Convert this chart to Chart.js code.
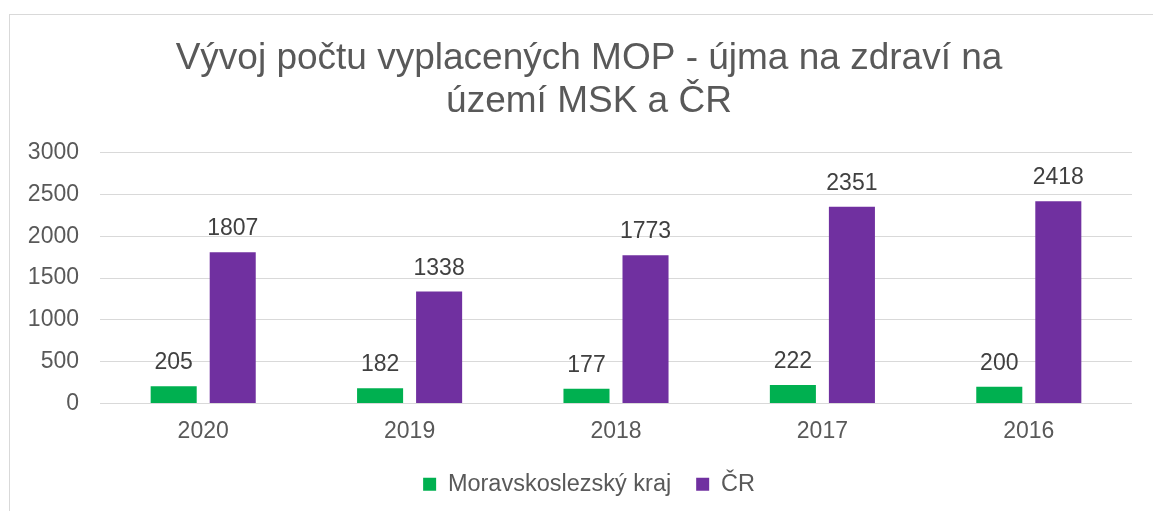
<!DOCTYPE html>
<html>
<head>
<meta charset="utf-8">
<script src="https://cdn.jsdelivr.net/npm/chart.js@4"></script>
<style>
  html, body { margin: 0; padding: 0; background: #fff; overflow: hidden; }
  #ramecek {
    position: absolute; left: 9px; top: 14px;
    width: 1158px; height: 520px;
    border-top: 1px solid #d9d9d9; border-left: 1px solid #d9d9d9;
    overflow: hidden;
  }
</style>
</head>
<body>
<div id="ramecek">
  <canvas id="graf" width="1158" height="495"></canvas>
</div>
<script>
var roky = ['2020', '2019', '2018', '2017', '2016']
var msk = [205, 182, 177, 222, 200]
var cr = [1807, 1338, 1773, 2351, 2418]
var nadpis = ['Vývoj počtu vyplacených MOP - újma na zdraví na', 'území MSK a ČR']

var pismo = 'Liberation Sans, Arial, sans-serif'

// popisky hodnot nad sloupci
var popiskyPlugin = {
    id: 'popisky',
    afterDatasetsDraw: function(chart) {
        var ctx = chart.ctx
        ctx.save()
        ctx.font = '23px ' + pismo
        ctx.fillStyle = '#404040'
        ctx.textAlign = 'center'
        ctx.textBaseline = 'alphabetic'
        chart.data.datasets.forEach(function(ds, i) {
            chart.getDatasetMeta(i).data.forEach(function(bar, j) {
                ctx.fillText(ds.data[j], bar.x, bar.y - 17)
            })
        })
        ctx.restore()
    }
}

new Chart(document.getElementById('graf'), {
    type: 'bar',
    data: {
        labels: roky,
        datasets: [
            { label: 'Moravskoslezský kraj', data: msk, backgroundColor: '#00B050' },
            { label: 'ČR', data: cr, backgroundColor: '#7030A0' }
        ]
    },
    options: {
        responsive: false,
        animation: false,
        categoryPercentage: 0.572,
        barPercentage: 0.78,
        layout: { padding: { left: 0, right: 0, top: 0, bottom: 4 } },
        plugins: {
            title: {
                display: true,
                text: nadpis,
                color: '#595959',
                font: { family: pismo, size: 37, weight: 'normal', lineHeight: 1.17 },
                padding: { top: 22, bottom: 29 }
            },
            legend: {
                position: 'bottom',
                labels: {
                    color: '#595959',
                    font: { family: pismo, size: 23.5 },
                    boxWidth: 13,
                    boxHeight: 13,
                    padding: 25
                }
            },
            tooltip: { enabled: false }
        },
        scales: {
            x: {
                grid: { display: false, drawTicks: false },
                border: { display: false },
                ticks: { color: '#595959', font: { family: pismo, size: 23 }, padding: 14 },
                afterFit: function(scale) { scale.height = 44 }
            },
            y: {
                min: 0,
                max: 3000,
                grid: { color: '#d9d9d9', lineWidth: 1, drawTicks: false },
                border: { display: false },
                ticks: {
                    stepSize: 500, color: '#595959', font: { family: pismo, size: 23 }, padding: 21,
                    callback: function(v) { return String(v) }
                },
                afterFit: function(scale) { scale.width = 90 }
            },
            // prazdna osa vpravo jen kvuli okraji
            y2: {
                position: 'right',
                display: true,
                grid: { display: false, drawTicks: false },
                border: { display: false },
                ticks: { display: false },
                afterFit: function(scale) { scale.width = 36 }
            }
        }
    },
    plugins: [popiskyPlugin]
})
</script>
</body>
</html>
